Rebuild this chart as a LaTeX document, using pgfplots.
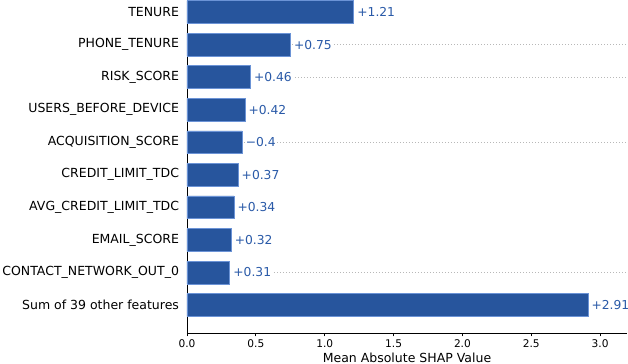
\documentclass[border=0pt]{standalone}
\usepackage{pgfplots}
\usepackage{pgfplotstable}
\pgfplotsset{compat=1.18}
\usepackage{fontspec}
\setmainfont{DejaVu Sans}
\definecolor{barblue}{HTML}{27559D}
\definecolor{baredge}{HTML}{6B93D6}
\definecolor{txtblue}{HTML}{2A5AA8}
\definecolor{gridgray}{HTML}{B8B8B8}
\pgfplotstableread[col sep=comma]{
y,x,lab
0,2.91,+2.91
1,0.31,+0.31
2,0.32,+0.32
3,0.34,+0.34
4,0.37,+0.37
5,0.40,−0.4
6,0.42,+0.42
7,0.46,+0.46
8,0.75,+0.75
9,1.21,+1.21
}\shapdata
\begin{document}
\begin{tikzpicture}
\begin{axis}[
  name=ax,
  scale only axis,
  width=440bp, height=333bp,
  xmin=0, xmax=3.195,
  ymin=-0.86, ymax=9.37,
  axis x line*=bottom,
  axis y line*=left,
  axis line style={black, line width=0.8bp},
  xtick={0,0.5,1,1.5,2,2.5,3},
  xticklabels={0.0,0.5,1.0,1.5,2.0,2.5,3.0},
  xtick pos=bottom,
  tick align=outside,
  major tick length=3.5bp,
  x tick style={black, line width=0.8bp},
  ytick={0,...,9},
  yticklabels={Sum of 39 other features, CONTACT\_NETWORK\_OUT\_0, EMAIL\_SCORE, AVG\_CREDIT\_LIMIT\_TDC, CREDIT\_LIMIT\_TDC, ACQUISITION\_SCORE, USERS\_BEFORE\_DEVICE, RISK\_SCORE, PHONE\_TENURE, TENURE},
  y tick style={draw=none},
  yticklabel style={font=\fontsize{12.5bp}{14bp}\selectfont, xshift=-1bp},
  xticklabel style={font=\fontsize{10.6bp}{12bp}\selectfont},
  /pgf/number format/assume math mode=true,
  xlabel={Mean Absolute SHAP Value},
  xlabel style={font=\fontsize{12.5bp}{14bp}\selectfont, yshift=2bp},
  clip=false,
]
\draw[gridgray, line width=0.9bp, dash pattern=on 1bp off 2bp] (axis cs:0,8) -- (axis cs:3.195,8);
\draw[gridgray, line width=0.9bp, dash pattern=on 1bp off 2bp] (axis cs:0,7) -- (axis cs:3.195,7);
\draw[gridgray, line width=0.9bp, dash pattern=on 1bp off 2bp] (axis cs:0,5) -- (axis cs:3.195,5);
\draw[gridgray, line width=0.9bp, dash pattern=on 1bp off 2bp] (axis cs:0,1) -- (axis cs:3.195,1);
\addplot[xbar, bar width=0.7, fill=barblue, draw=baredge, line width=0.5bp,
  point meta=explicit symbolic,
  nodes near coords={\pgfplotspointmeta},
  nodes near coords style={anchor=west, text=txtblue, fill=white, inner sep=1bp, xshift=2.5bp,
    font=\fontsize{12.3bp}{14bp}\selectfont}]
  table[x=x, y=y, meta=lab] {\shapdata};
\end{axis}
\pgfresetboundingbox
\path ([xshift=-187bp,yshift=-31bp]ax.south west) rectangle ([xshift=441bp,yshift=333bp]ax.south west);
\end{tikzpicture}
\end{document}
